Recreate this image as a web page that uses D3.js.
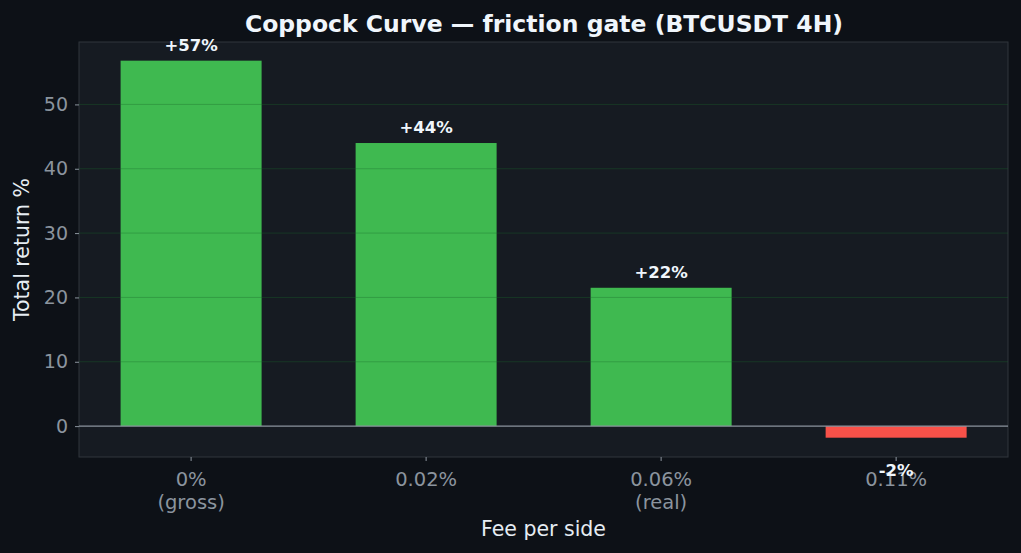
<!DOCTYPE html><html><head><meta charset="utf-8">
<script src="https://cdn.jsdelivr.net/npm/d3@7"></script>
<style>body{margin:0;background:#0d1117}</style></head><body>
<svg id="c" width="1021" height="553"></svg>
<script>
const categories=["0%\n(gross)","0.02%","0.06%\n(real)","0.11%"];
const values=[56.8,44.0,21.5,-1.8];
const labels=["+57%","+44%","+22%","-2%"];
const yTicks=[0,10,20,30,40,50];

const svg=d3.select("#c");
const L=79,R=1008,T=42,B=457;
svg.append("rect").attr("width",1021).attr("height",553).attr("fill","#0d1117");
svg.append("rect").attr("x",L).attr("y",T).attr("width",R-L).attr("height",B-T).attr("fill","#161b22").attr("stroke","#30363d");
const x=d3.scaleLinear().domain([-0.477,3.476]).range([L,R]);
const y=d3.scaleLinear().domain([-4.8,59.7]).range([B,T]);
const bw=x(0.6)-x(0);
svg.selectAll(".bar").data(values).join("rect")
 .attr("x",(d,i)=>x(i)-bw/2).attr("width",bw)
 .attr("y",d=>y(Math.max(0,d))).attr("height",d=>Math.abs(y(d)-y(0)))
 .attr("fill",d=>d>=0?"#3fb950":"#f85149");
svg.selectAll(".grid").data(yTicks.filter(t=>t>0)).join("line")
 .attr("x1",L).attr("x2",R).attr("y1",d=>y(d)).attr("y2",d=>y(d))
 .attr("stroke","#1a6b2a").attr("stroke-opacity",0.35);
svg.append("line").attr("x1",L).attr("x2",R).attr("y1",y(0)).attr("y2",y(0)).attr("stroke","#8b949e").attr("stroke-width",1.2);
const ya=svg.append("g").attr("transform",`translate(${L},0)`).call(d3.axisLeft(y).tickValues(yTicks).tickSize(4).tickPadding(7));
ya.select(".domain").remove();
ya.selectAll("line").attr("stroke","#8b949e");
ya.selectAll("text").attr("fill","#8b949e").attr("font-size",19).attr("font-family","DejaVu Sans");
svg.selectAll(".xl").data(categories).join("text")
 .attr("x",(d,i)=>x(i)).attr("y",486).attr("text-anchor","middle")
 .attr("fill","#8b949e").attr("font-size",19.5).attr("font-family","DejaVu Sans")
 .each(function(d){const t=d3.select(this);d.split("\n").forEach((s,k)=>t.append("tspan").attr("x",t.attr("x")).attr("dy",k?23:0).text(s));});
svg.selectAll(".xt").data(categories).join("line").attr("x1",(d,i)=>x(i)).attr("x2",(d,i)=>x(i)).attr("y1",B).attr("y2",B+4).attr("stroke","#8b949e");
svg.selectAll(".vl").data(values).join("text")
 .attr("x",(d,i)=>x(i)).attr("y",d=>d>=0?y(d)-10:y(d)+38).attr("text-anchor","middle")
 .attr("fill","#f0f6fc").attr("font-weight","bold").attr("font-size",16.5).attr("font-family","DejaVu Sans")
 .text((d,i)=>labels[i]);
svg.append("text").attr("x",(L+R)/2).attr("y",536).attr("text-anchor","middle").attr("fill","#e6edf3").attr("font-size",20.5).attr("font-family","DejaVu Sans").text("Fee per side");
svg.append("text").attr("transform",`translate(29,${(T+B)/2}) rotate(-90)`).attr("text-anchor","middle").attr("fill","#e6edf3").attr("font-size",20.5).attr("font-family","DejaVu Sans").text("Total return %");
svg.append("text").attr("x",544).attr("y",32).attr("text-anchor","middle").attr("fill","#f0f6fc").attr("font-weight","bold").attr("font-size",23.5).attr("font-family","DejaVu Sans").text("Coppock Curve — friction gate (BTCUSDT 4H)");
</script></body></html>
